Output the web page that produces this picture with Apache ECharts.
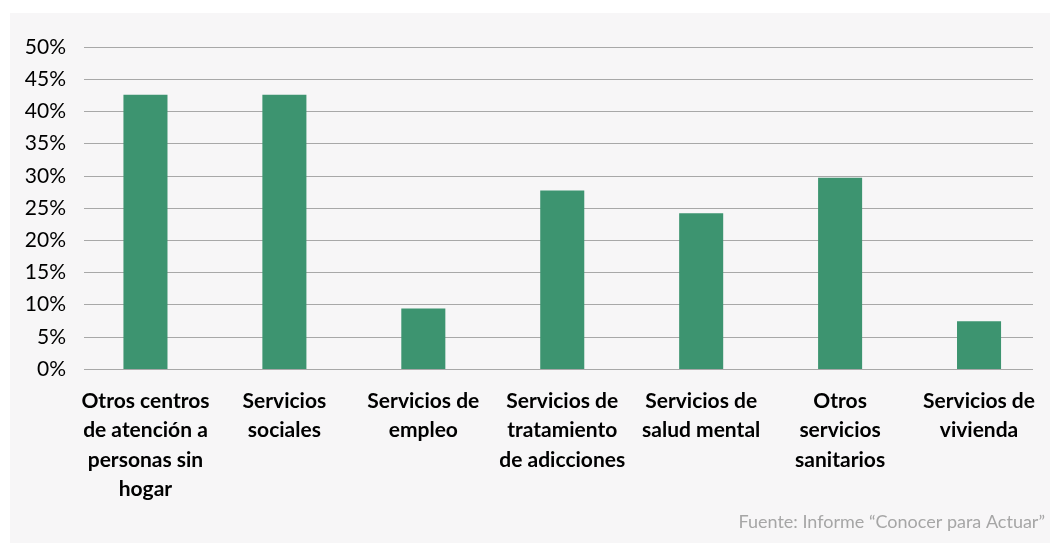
<!DOCTYPE html>
<html>
<head>
<meta charset="utf-8">
<script src="https://cdn.jsdelivr.net/npm/echarts@6/dist/echarts.min.js"></script>
<style>
  html, body { margin: 0; padding: 0; background: #fff; }
  #chart { width: 1050px; height: 543px; }
</style>
</head>
<body>
<div id="chart"></div>
<script>
// categorias (saltos de linea como en el original)
var categorias = [
  "Otros centros\nde atención a\npersonas sin\nhogar",
  "Servicios\nsociales",
  "Servicios de\nempleo",
  "Servicios de\ntratamiento\nde adicciones",
  "Servicios de\nsalud mental",
  "Otros\nservicios\nsanitarios",
  "Servicios de\nvivienda"
];
// porcentajes
var valores = [42.6, 42.6, 9.4, 27.7, 24.2, 29.7, 7.4];
var yMin = 0, yMax = 50, yPaso = 5;
var fuente = "Fuente: Informe “Conocer para Actuar”";

var myChart = echarts.init(document.getElementById("chart"));
var option = {
  animation: false,
  backgroundColor: "#ffffff",
  graphic: [
    {
      type: "rect",
      z: -10,
      shape: { x: 10, y: 13, width: 1040, height: 530 },
      style: { fill: "#f7f6f7" }
    },
    {
      type: "text",
      right: 5,
      top: 513,
      style: {
        text: fuente,
        fill: "#a6a6a6",
        font: "18px Lato"
      }
    }
  ],
  grid: [
    { left: 84, right: 17, top: 47, bottom: 174 },
    { left: 76, right: 1.5, top: 47, bottom: 174 }
  ],
  xAxis: [
    {
      gridIndex: 0,
      type: "category",
      data: categorias,
      show: false
    },
    {
      gridIndex: 1,
      type: "category",
      data: categorias,
      axisLine: { show: false },
      axisTick: { show: false },
      axisLabel: {
        interval: 0,
        margin: 17,
        color: "#000",
        fontFamily: "Lato",
        fontWeight: "bold",
        fontSize: 21,
        lineHeight: 29.5,
        align: "center"
      }
    }
  ],
  yAxis: [
    {
      gridIndex: 0,
      type: "value",
      min: yMin,
      max: yMax,
      interval: yPaso,
      axisLine: { show: false },
      axisTick: { show: false },
      splitLine: { lineStyle: { color: "#a8a8a8", width: 1.2 } },
      axisLabel: {
        margin: 18,
        color: "#000",
        fontFamily: "Lato",
        fontSize: 21,
        formatter: "{value}%"
      }
    },
    {
      gridIndex: 1,
      type: "value",
      min: yMin,
      max: yMax,
      interval: yPaso,
      show: false,
      splitLine: { show: false }
    }
  ],
  series: [
    {
      type: "bar",
      xAxisIndex: 1,
      yAxisIndex: 1,
      data: valores,
      barWidth: "31.7%",
      itemStyle: { color: "#3d9470" }
    }
  ]
};
myChart.setOption(option);
</script>
</body>
</html>
